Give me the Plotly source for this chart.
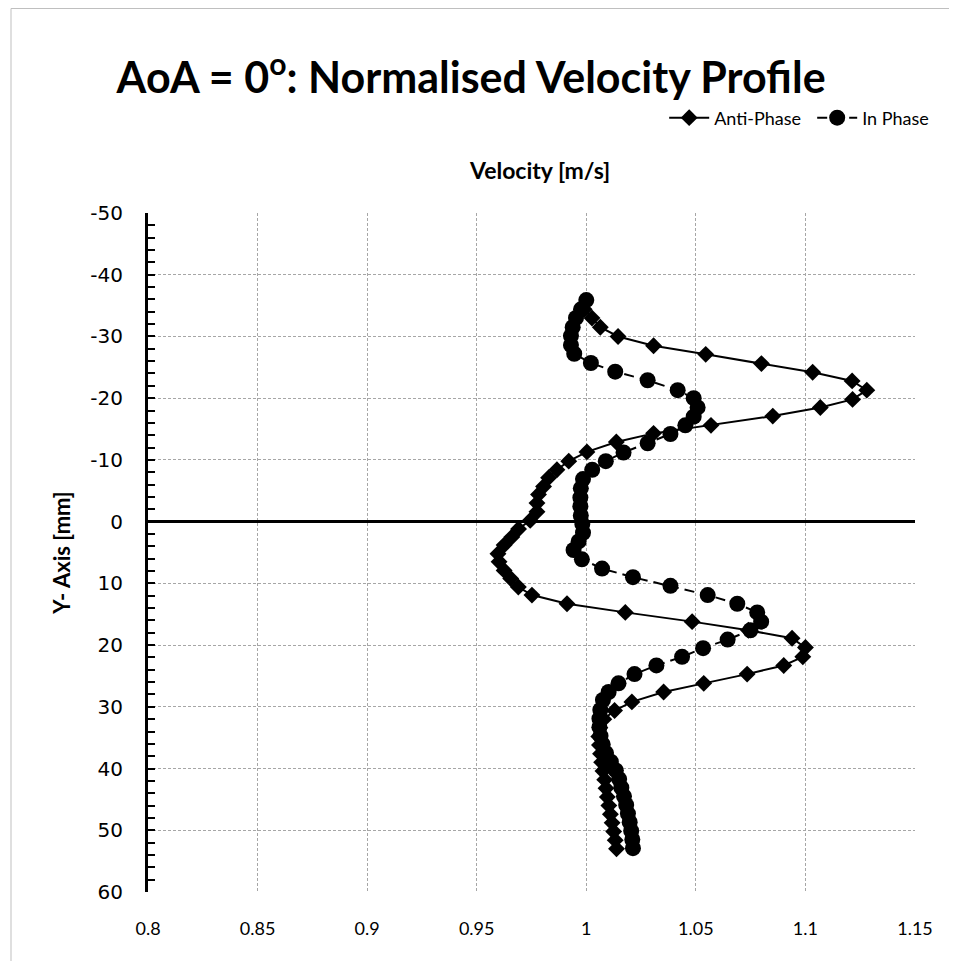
import plotly.graph_objects as go

# Anti-Phase profile (diamonds)
anti_y = [-34.4, -33.0, -31.5, -30.0, -28.5, -27.1, -25.6, -24.2, -22.8, -21.3,
          -19.8, -18.5, -17.1, -15.6, -14.3, -12.9, -11.3, -9.8, -8.4, -7.1,
          -5.7, -4.4, -3.0, -1.6, -0.2, 1.2, 2.5, 3.8, 5.2, 6.5,
          7.9, 9.2, 10.6, 11.9, 13.3, 14.7, 16.2, 17.6, 18.9, 20.4,
          21.9, 23.3, 24.7, 26.2, 27.6, 29.2, 30.6, 32.0, 33.4, 34.8,
          36.2, 37.6, 39.0, 40.4, 41.8, 43.2, 44.6, 46.0, 47.4, 48.8,
          50.2, 51.6, 53.0]
anti_v = [0.999, 1.0026, 1.0064, 1.0145, 1.0307, 1.0545, 1.0799, 1.1033, 1.1213, 1.128,
          1.1215, 1.1068, 1.0851, 1.0569, 1.0307, 1.0137, 1.0003, 0.992, 0.9866, 0.9828,
          0.9805, 0.9782, 0.9775, 0.9775, 0.9744, 0.9691, 0.966, 0.9625, 0.9597, 0.9602,
          0.9625, 0.9655, 0.969, 0.9752, 0.9912, 1.0178, 1.0483, 1.074, 1.0939, 1.1,
          1.0988, 1.0901, 1.0734, 1.0536, 1.0353, 1.0208, 1.0129, 1.008, 1.0062, 1.0057,
          1.006, 1.0065, 1.007, 1.0076, 1.0084, 1.009, 1.0096, 1.0103, 1.011, 1.0118,
          1.0125, 1.0132, 1.0138]

# In Phase profile (circles)
in_y = [-35.9, -34.4, -33.0, -31.5, -30.1, -28.6, -27.2, -25.7, -24.3, -22.9,
        -21.3, -20.0, -18.5, -17.0, -15.6, -14.2, -12.7, -11.2, -9.8, -8.4,
        -6.9, -5.4, -3.9, -2.5, -1.0, 0.4, 1.8, 3.2, 4.6, 6.1,
        7.6, 9.0, 10.4, 11.9, 13.3, 14.7, 16.2, 17.6, 19.1, 20.5,
        21.9, 23.3, 24.7, 26.2, 27.6, 28.9, 30.5, 31.9, 33.3, 34.7,
        36.1, 37.5, 38.9, 40.3, 41.7, 43.1, 44.5, 45.9, 47.3, 48.7,
        50.1, 51.5, 52.9]
in_v = [1.0, 0.9976, 0.9953, 0.9938, 0.993, 0.993, 0.9945, 1.0021, 1.0132, 1.028,
        1.0417, 1.049, 1.0508, 1.049, 1.0452, 1.0384, 1.028, 1.017, 1.0089, 1.0027,
        0.9985, 0.9975, 0.9973, 0.9973, 0.9975, 0.9982, 0.9985, 0.9965, 0.9942, 0.998,
        1.0072, 1.0213, 1.0384, 1.0554, 1.0689, 1.078, 1.0798, 1.0749, 1.0645, 1.0533,
        1.0437, 1.032, 1.022, 1.0147, 1.0102, 1.0076, 1.0064, 1.006, 1.006, 1.0065,
        1.0075, 1.009, 1.0112, 1.0135, 1.015, 1.016, 1.0172, 1.0182, 1.019, 1.0198,
        1.0205, 1.021, 1.0213]

y_tickvals = [-50, -40, -30, -20, -10, 0, 10, 20, 30, 40, 50, 60]
y_ticktext = ["-50", "-40", "-30", "-20", "-10", "0", "10", "20", "30", "40", "50", "60"]

x_range = [0.8, 1.15]
y_range = [60, -50]

grid_col = "#a6a6a6"

fig = go.Figure()
fig.add_trace(go.Scatter(x=anti_v, y=anti_y, name="Anti-Phase", mode="lines+markers",
                         line=dict(color="black", width=2),
                         marker=dict(symbol="diamond", size=13, color="black")))
fig.add_trace(go.Scatter(x=in_v, y=in_y, name="In Phase", mode="lines+markers",
                         line=dict(color="black", width=2, dash="10px,6px"),
                         marker=dict(symbol="circle", size=16, color="black")))

fig.update_layout(
    width=949, height=953,
    margin=dict(l=140, r=42, t=205, b=69, autoexpand=False),
    paper_bgcolor="white", plot_bgcolor="white",
    font=dict(family="Lato", color="black"),
    title=dict(text="<b>AoA = 0<sup>o</sup>: Normalised Velocity Profile</b>",
               x=0.488, xanchor="center", y=0.9265, yanchor="middle",
               font=dict(family="Lato", size=43, color="black")),
    legend=dict(orientation="h", x=0.673, xanchor="left", y=1.14, yanchor="middle",
                font=dict(family="Lato", size=18, color="black"),
                itemwidth=40, entrywidth=93, bgcolor="rgba(0,0,0,0)"),
    xaxis=dict(range=x_range, dtick=0.05, tick0=0.8, showline=False, zeroline=False,
               showgrid=True, gridcolor=grid_col, griddash="3px,2px", gridwidth=1,
               ticks="", ticklabelstandoff=24,
               tickfont=dict(family="Lato", size=18, color="black")),
    xaxis2=dict(range=x_range, overlaying="x", anchor="free", position=60 / 110,
                showline=False, showgrid=False, zeroline=False, showticklabels=False,
                ticks="outside", dtick=0.01, tick0=0.8, ticklen=5, tickwidth=2,
                tickcolor="black"),
    yaxis=dict(range=y_range, tickvals=y_tickvals, ticktext=y_ticktext,
               showline=True, linewidth=3,
               linecolor="black", showgrid=True, gridcolor=grid_col,
               griddash="3px,2px", gridwidth=1,
               zeroline=True, zerolinecolor="black", zerolinewidth=3,
               ticks="inside", ticklen=7, tickwidth=2, tickcolor="black",
               minor=dict(dtick=2, ticks="inside", ticklen=7, tickwidth=2,
                          tickcolor="black", showgrid=False),
               ticklabelstandoff=18,
               tickfont=dict(family="DejaVu Sans", size=20, color="black"),
               title=dict(text="<b>Y- Axis [mm]</b>", standoff=14,
                          font=dict(family="Lato", size=22, color="black"))),
    showlegend=True,
)

fig.add_annotation(text="<b>Velocity [m/s]</b>", xref="paper", yref="paper",
                   x=0.51, y=(884 - 162) / 679, xanchor="center", yanchor="middle",
                   showarrow=False, font=dict(family="Lato", size=23, color="black"))

# chart area border (Excel style)
fig.add_shape(type="rect", xref="paper", yref="paper",
              x0=(3 - 140) / 767, x1=1.2, y0=-0.3, y1=(884 - 0.5) / 679,
              line=dict(color="#bfbfbf", width=1), fillcolor="rgba(0,0,0,0)")

fig.write_html("out.html")
